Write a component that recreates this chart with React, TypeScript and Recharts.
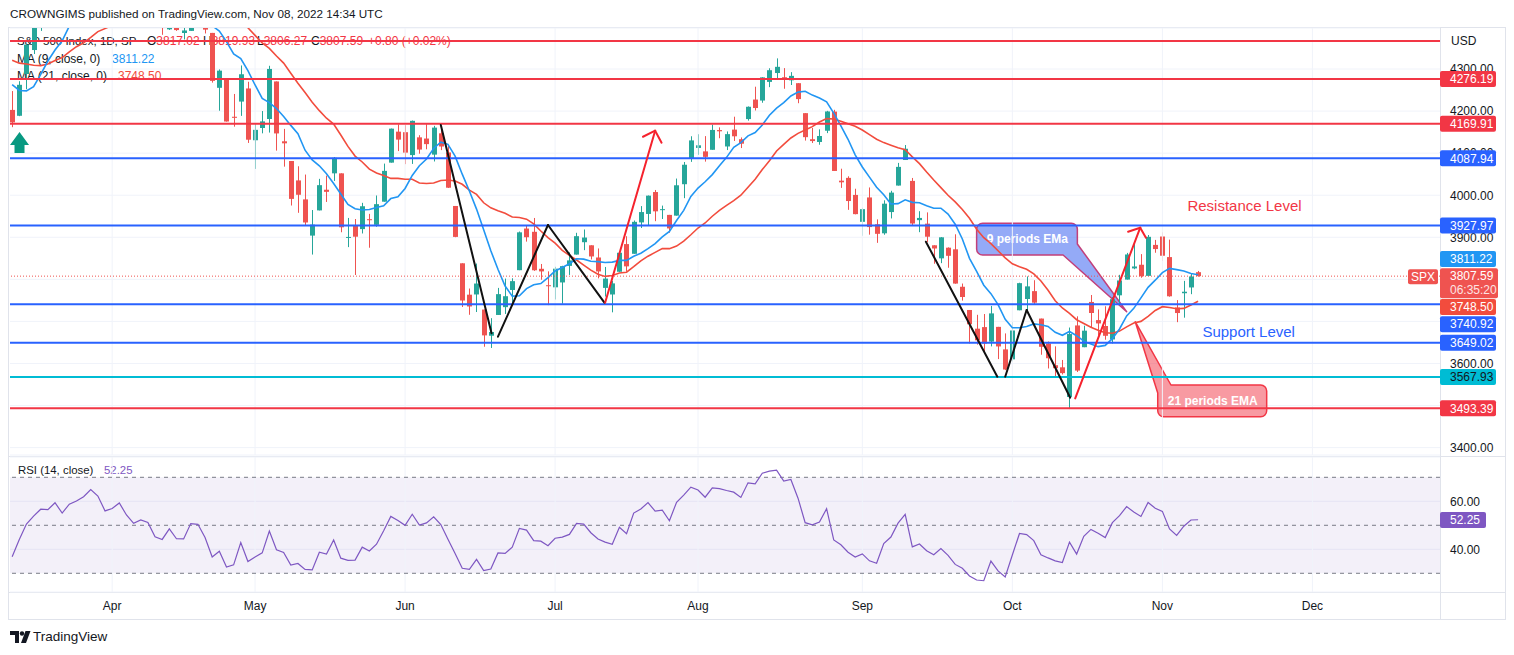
import React from 'react';
import {
  ComposedChart, Bar, Line, XAxis, YAxis, CartesianGrid,
  ReferenceLine, ReferenceArea, ReferenceDot,
} from 'recharts';

// ---------------- DATA (S&P 500, daily, 14 Mar 2022 → 8 Nov 2022) ----------------
const opens = [
  4202.75, 4188.82, 4288.14, 4345.11, 4407.34, 4462.40, 4469.10, 4493.10, 4469.98, 4522.66,
  4541.09, 4602.86, 4624.20, 4599.02, 4540.32, 4547.97, 4572.45, 4494.17, 4474.65, 4494.15,
  4462.64, 4437.59, 4394.30, 4449.12, 4385.63, 4390.63, 4472.26, 4489.17, 4385.83, 4255.34,
  4278.14, 4186.52, 4222.58, 4253.75, 4130.61, 4159.78, 4181.18, 4270.43, 4128.17, 4081.27,
  4035.18, 3990.08, 3903.95, 3963.90, 4013.02, 4052.00, 4051.98, 3899.00, 3927.76, 3919.42,
  3942.94, 3929.59, 3984.60, 4077.43, 4151.09, 4149.78, 4095.41, 4137.57, 4134.72, 4096.47,
  4147.12, 4101.65, 3974.39, 3838.15, 3763.52, 3764.05, 3728.18, 3665.90, 3715.31, 3733.89,
  3774.71, 3821.75, 3920.76, 3913.00, 3825.09, 3785.99, 3781.00, 3792.61, 3831.98, 3858.85,
  3888.26, 3880.94, 3851.95, 3779.67, 3763.99, 3818.00, 3883.79, 3860.73, 3935.32, 3955.47,
  4007.51, 3965.72, 3953.22, 3951.43, 4026.13, 4087.33, 4112.38, 4104.21, 4107.96, 4154.85,
  4115.87, 4155.93, 4133.11, 4181.02, 4227.40, 4225.02, 4269.37, 4290.46, 4280.40, 4273.13,
  4266.31, 4195.08, 4133.09, 4126.55, 4153.26, 4198.74, 4034.58, 4041.25, 4000.67, 3936.73,
  3994.66, 3930.89, 3909.43, 3959.94, 4022.94, 4083.67, 4034.00, 3940.73, 3932.41, 3880.95,
  3849.91, 3875.23, 3871.40, 3782.36, 3727.14, 3682.72, 3686.44, 3651.94, 3687.01, 3633.48,
  3609.78, 3726.46, 3753.25, 3771.97, 3706.74, 3647.51, 3595.86, 3590.83, 3520.37, 3690.41,
  3638.65, 3746.26, 3703.11, 3689.05, 3657.10, 3762.01, 3799.44, 3825.97, 3834.69, 3808.26,
  3881.85, 3901.79, 3852.90, 3733.25, 3766.98, 3780.71, 3817.02,
];
const highs = [
  4247.57, 4271.05, 4358.90, 4412.67, 4465.40, 4481.75, 4522.00, 4501.07, 4520.58, 4546.03,
  4575.65, 4637.30, 4627.77, 4603.07, 4548.70, 4583.50, 4593.45, 4503.94, 4521.16, 4520.41,
  4464.35, 4471.00, 4453.92, 4460.46, 4410.31, 4471.03, 4488.29, 4512.94, 4385.83, 4299.02,
  4278.14, 4240.71, 4308.45, 4269.68, 4169.81, 4200.10, 4307.66, 4270.43, 4157.69, 4081.27,
  4068.82, 4049.09, 3964.80, 4038.88, 4046.46, 4090.72, 4051.98, 3945.96, 3943.42, 3981.88,
  3955.68, 3999.33, 4075.14, 4158.49, 4168.34, 4166.54, 4177.51, 4142.67, 4168.78, 4164.86,
  4160.14, 4119.10, 3974.39, 3838.15, 3778.18, 3837.56, 3728.18, 3707.71, 3779.65, 3801.79,
  3802.58, 3913.65, 3927.72, 3945.86, 3836.50, 3818.99, 3829.82, 3832.19, 3864.13, 3910.63,
  3918.50, 3880.94, 3873.41, 3829.44, 3796.41, 3863.62, 3902.44, 3939.81, 3974.13, 3999.29,
  4012.44, 3975.30, 3953.22, 4039.56, 4078.95, 4140.15, 4144.95, 4140.47, 4167.66, 4161.29,
  4151.58, 4186.62, 4137.30, 4211.03, 4257.91, 4280.47, 4301.79, 4325.28, 4302.18, 4292.53,
  4266.31, 4195.08, 4159.77, 4156.56, 4200.54, 4203.04, 4062.99, 4044.98, 4015.37, 3970.23,
  4018.43, 3942.55, 3987.89, 4010.50, 4076.81, 4119.28, 4041.00, 3961.94, 3959.14, 3880.95,
  3900.45, 3876.01, 3907.07, 3790.00, 3727.14, 3715.67, 3717.53, 3736.74, 3687.01, 3671.44,
  3698.35, 3791.92, 3806.91, 3797.93, 3706.74, 3652.17, 3640.66, 3608.34, 3685.41, 3712.00,
  3689.73, 3762.79, 3728.58, 3736.00, 3757.89, 3810.74, 3862.85, 3886.15, 3859.95, 3905.42,
  3893.73, 3911.79, 3894.44, 3750.59, 3796.34, 3813.95, 3819.93,
];
const lows = [
  4161.72, 4187.90, 4251.99, 4335.65, 4390.57, 4424.30, 4469.10, 4455.81, 4465.17, 4501.07,
  4517.69, 4589.66, 4581.32, 4530.41, 4507.57, 4539.21, 4514.17, 4450.04, 4450.30, 4474.60,
  4408.38, 4381.34, 4392.70, 4390.77, 4370.30, 4390.63, 4448.76, 4384.47, 4267.62, 4200.82,
  4175.04, 4162.90, 4188.63, 4124.28, 4062.51, 4147.08, 4148.91, 4106.01, 4067.91, 3975.48,
  3958.17, 3928.82, 3858.87, 3963.90, 3983.99, 4033.93, 3911.91, 3876.58, 3810.32, 3909.04,
  3875.13, 3925.03, 3984.60, 4077.43, 4104.88, 4073.85, 4074.37, 4098.67, 4109.18, 4080.19,
  4107.20, 4017.17, 3900.16, 3734.30, 3715.71, 3722.30, 3639.77, 3636.87, 3715.31, 3717.69,
  3743.52, 3821.75, 3889.66, 3820.14, 3799.02, 3738.67, 3752.10, 3742.06, 3810.47, 3858.85,
  3869.34, 3847.22, 3802.36, 3759.07, 3721.56, 3817.18, 3818.63, 3860.73, 3922.03, 3927.64,
  3938.24, 3943.46, 3910.74, 3951.43, 3992.97, 4079.22, 4096.02, 4079.81, 4107.96, 4135.42,
  4107.31, 4128.97, 4112.09, 4177.26, 4201.41, 4219.78, 4256.90, 4277.77, 4253.08, 4261.98,
  4218.70, 4129.86, 4124.03, 4119.97, 4147.59, 4057.66, 4017.42, 3965.21, 3954.53, 3903.65,
  3906.21, 3886.75, 3906.03, 3944.81, 4022.94, 4083.67, 3928.00, 3912.11, 3888.28, 3837.08,
  3838.50, 3827.54, 3789.49, 3749.45, 3647.47, 3644.76, 3623.29, 3640.61, 3610.40, 3584.13,
  3604.93, 3726.46, 3722.66, 3739.22, 3620.73, 3588.10, 3568.45, 3573.86, 3491.58, 3579.68,
  3638.65, 3686.53, 3666.51, 3656.44, 3647.42, 3741.65, 3799.44, 3824.07, 3803.79, 3808.26,
  3863.18, 3843.80, 3758.68, 3698.15, 3708.84, 3764.70, 3806.27,
];
const closes = [
  4173.11, 4262.45, 4357.86, 4411.67, 4463.12, 4461.18, 4511.61, 4456.24, 4520.16, 4543.06,
  4575.52, 4631.60, 4602.45, 4530.41, 4545.86, 4582.64, 4525.12, 4481.15, 4500.21, 4488.28,
  4412.53, 4397.45, 4446.59, 4392.59, 4391.69, 4462.21, 4459.45, 4393.66, 4271.78, 4296.12,
  4175.20, 4183.96, 4287.50, 4131.93, 4155.38, 4175.48, 4300.17, 4146.87, 4123.34, 3991.24,
  4001.05, 3935.18, 3930.08, 4023.89, 4008.01, 4088.85, 3923.68, 3900.79, 3901.36, 3973.75,
  3941.48, 3978.73, 4057.84, 4158.24, 4132.15, 4101.23, 4176.82, 4108.54, 4121.43, 4160.68,
  4115.77, 4017.82, 3900.86, 3749.63, 3735.48, 3789.99, 3666.77, 3674.84, 3764.79, 3759.89,
  3795.73, 3911.74, 3900.11, 3821.55, 3818.83, 3785.38, 3825.33, 3831.39, 3845.08, 3902.62,
  3899.38, 3854.43, 3818.80, 3801.78, 3790.38, 3863.16, 3830.85, 3936.69, 3959.90, 3998.95,
  3961.63, 3966.84, 3921.05, 4023.61, 4072.43, 4130.29, 4118.63, 4091.19, 4155.17, 4151.94,
  4145.19, 4140.06, 4122.47, 4210.24, 4207.27, 4280.15, 4297.14, 4305.20, 4274.04, 4283.74,
  4228.48, 4137.99, 4128.73, 4140.77, 4199.12, 4057.66, 4030.61, 3986.16, 3955.00, 3966.85,
  3924.26, 3908.19, 3979.87, 4006.18, 4067.36, 4110.41, 3932.69, 3946.01, 3901.35, 3873.33,
  3899.89, 3855.93, 3789.93, 3757.99, 3693.23, 3655.04, 3647.29, 3719.04, 3640.47, 3585.62,
  3678.43, 3790.93, 3783.28, 3744.52, 3639.66, 3612.39, 3588.84, 3577.03, 3669.91, 3583.07,
  3677.95, 3719.98, 3695.16, 3665.78, 3752.75, 3797.34, 3859.11, 3830.60, 3807.30, 3901.06,
  3871.98, 3856.10, 3759.69, 3719.89, 3770.55, 3806.80, 3807.59,
];
const ma9 = [
  4263, 4249, 4248, 4258, 4287, 4319, 4345, 4367, 4402, 4443, 4478, 4508, 4529, 4537, 4546, 4554, 4562, 4558, 4553, 4543,
  4519, 4496, 4487, 4470, 4448, 4441, 4439, 4427, 4403, 4390, 4365, 4336, 4325, 4296, 4262, 4230, 4220, 4206, 4187, 4166,
  4146, 4107, 4084, 4070, 4051, 4028, 4003, 3978, 3968, 3965, 3966, 3971, 3975, 3992, 3996, 4016, 4047, 4070, 4086, 4111,
  4126, 4121, 4093, 4050, 4010, 3967, 3918, 3868, 3824, 3784, 3760, 3761, 3778, 3787, 3790, 3804, 3820, 3828, 3837, 3849,
  3848, 3843, 3842, 3840, 3841, 3845, 3845, 3855, 3862, 3873, 3885, 3901, 3914, 3940, 3964, 3997, 4017, 4032, 4049, 4070,
  4090, 4114, 4125, 4141, 4149, 4167, 4190, 4207, 4220, 4236, 4245, 4247, 4238, 4231, 4222, 4195, 4165, 4133, 4096, 4067,
  4043, 4019, 4001, 3979, 3980, 3989, 3983, 3982, 3975, 3969, 3969, 3955, 3931, 3896, 3850, 3819, 3786, 3766, 3740, 3705,
  3685, 3685, 3688, 3694, 3692, 3688, 3674, 3667, 3676, 3666, 3653, 3646, 3640, 3643, 3659, 3682, 3713, 3731, 3756, 3781,
  3798, 3816, 3826, 3823, 3820, 3814, 3811,
];
const ma21 = [
  4321, 4314, 4312, 4309, 4308, 4312, 4320, 4327, 4341, 4353, 4362, 4375, 4389, 4396, 4404, 4416, 4432, 4447, 4457, 4468,
  4478, 4489, 4497, 4499, 4498, 4498, 4498, 4492, 4484, 4473, 4455, 4437, 4420, 4398, 4380, 4362, 4349, 4331, 4314, 4290,
  4266, 4244, 4221, 4201, 4183, 4169, 4143, 4116, 4093, 4079, 4062, 4053, 4047, 4040, 4040, 4038, 4038, 4029, 4028, 4029,
  4035, 4036, 4034, 4026, 4012, 4002, 3982, 3970, 3963, 3957, 3948, 3947, 3943, 3932, 3915, 3899, 3886, 3869, 3857, 3846,
  3834, 3822, 3812, 3807, 3809, 3815, 3817, 3830, 3844, 3855, 3864, 3873, 3873, 3879, 3891, 3906, 3922, 3934, 3950, 3964,
  3976, 3987, 4000, 4019, 4038, 4061, 4082, 4105, 4121, 4136, 4147, 4155, 4163, 4174, 4182, 4181, 4176, 4170, 4164, 4155,
  4144, 4133, 4125, 4119, 4113, 4108, 4091, 4075, 4055, 4036, 4018, 4000, 3984, 3966, 3945, 3919, 3899, 3885, 3868, 3851,
  3837, 3830, 3824, 3813, 3796, 3774, 3749, 3732, 3719, 3704, 3695, 3686, 3679, 3673, 3672, 3677, 3687, 3696, 3700, 3712,
  3726, 3735, 3733, 3730, 3731, 3739, 3748,
];
const rsi14 = [
  36.9, 44.1, 50.5, 53.8, 56.7, 56.5, 59.4, 55.1, 58.8, 60.1, 61.9, 64.9, 62.2, 56.0, 57.0, 59.3, 54.3, 50.8, 52.2, 51.2,
  45.2, 44.1, 48.5, 44.4, 44.3, 50.7, 50.4, 44.9, 36.8, 39.2, 32.6, 33.5, 42.8, 34.9, 36.8, 38.5, 47.6, 39.8, 38.7, 33.4,
  34.1, 31.6, 31.4, 38.8, 38.0, 43.9, 36.3, 35.4, 35.5, 40.9, 39.3, 42.1, 47.7, 53.7, 52.0, 50.0, 54.6, 50.1, 51.0, 53.5,
  50.3, 44.2, 38.2, 32.1, 31.6, 35.8, 31.1, 31.8, 38.5, 38.3, 40.9, 48.7, 48.0, 43.6, 43.4, 41.5, 44.6, 45.1, 46.2, 50.8,
  50.5, 46.9, 44.3, 43.0, 42.1, 49.2, 46.5, 55.1, 56.8, 59.5, 55.9, 56.3, 51.9, 59.6, 62.6, 65.9, 64.7, 61.7, 65.6, 65.3,
  64.5, 63.8, 61.6, 67.7, 67.3, 71.7, 72.6, 73.0, 68.4, 69.1, 61.3, 51.1, 50.2, 51.4, 56.9, 43.9, 41.9, 38.8, 36.8, 38.1,
  35.2, 34.2, 42.4, 45.1, 50.9, 54.6, 41.0, 42.2, 39.4, 37.7, 40.3, 37.5, 33.7, 32.1, 28.9, 27.2, 26.9, 35.1, 31.0, 28.5,
  37.6, 46.6, 46.1, 43.6, 37.7, 36.4, 35.2, 34.5, 43.0, 38.0, 45.4, 48.3, 46.7, 44.9, 51.1, 54.0, 57.8, 55.5, 53.7, 59.5,
  57.1, 55.8, 48.5, 45.8, 49.6, 52.2, 52.3,
];

// time axis: bar index of the first session of each month
const monthIdx = [14, 34, 55, 76, 96, 119, 140, 161, 182];
const monthLabels = ['Apr', 'May', 'Jun', 'Jul', 'Aug', 'Sep', 'Oct', 'Nov', 'Dec'];

const priceTicks = [3400, 3500, 3600, 3700, 3800, 3900, 4000, 4100, 4200, 4300];
// price-scale labels that sit under the level tags in the reference
const coveredTicks = [3500, 3700, 3800];
const rsiTicks = [40, 60];
const rsiLevels = [70, 50, 30];

// horizontal levels drawn on the chart
const levelPrices = [4366.6, 4276.19, 4169.91, 4087.94, 3927.97, 3740.92, 3649.02, 3567.93, 3493.39];

// legend values
const lastMa9 = 3811.22;
const lastMa21 = 3748.5;
const lastRsi = 52.25;

// drawings in (bar index, price) coordinates
const zigzagSegments = [
  [[60.0, 4166.9], [67.1, 3671.7]],
  [[68.0, 3663.6], [75.0, 3929.2]],
  [[75.0, 3929.2], [82.9, 3744.5]],
  [[127.9, 3889.5], [137.9, 3568.5]],
  [[139.0, 3568.5], [142.0, 3727.0]],
  [[142.0, 3727.0], [148.1, 3518.6]],
];
const arrowSegments = [
  [[83.0, 3744.5], [90.0, 4153.3]],
  [[90.0, 4153.3], [88.3, 4139.0]],
  [[90.0, 4153.3], [90.9, 4124.8]],
  [[148.8, 3517.0], [157.9, 3922.7]],
  [[157.9, 3922.7], [156.2, 3913.2]],
  [[157.9, 3922.7], [158.7, 3899.0]],
];
// callout: box [x1, x2, yBottom, yTop], tip [x, y], base points where the pointer meets the box
const callout9 = { text: '9 periods EMa', box: [135.0, 149.1, 3857.9, 3933.2], tip: [156.0, 3723.1], baseA: [149.1, 3884.0], baseB: [147.1, 3857.9] };
const callout21 = { text: '21 periods EMA', box: [160.35, 175.6, 3473.5, 3548.8], tip: [157.2, 3699.3], baseA: [160.35, 3529.8], baseB: [162.2, 3548.8] };
const resistanceText = { x: 164.5, y: 3975.0, text: 'Resistance Level' };
const supportText = { x: 166.6, y: 3674.8, text: 'Support Level' };
const buyArrow = { x: 1.03, y: 4125.3 };

// ---------------- STYLE ----------------
const FONT = "'Liberation Sans', Arial, Helvetica, sans-serif";
const TEXT = '#131722';
const GRID = '#f0f3fa';
const BORDER = '#e0e3eb';
const UP = '#26a69a';
const DOWN = '#ef5350';
const RED = '#f23645';
const BLUE = '#2962ff';
const CYAN = '#00bcd4';
const MA9_C = '#2196f3';
const MA21_C = '#f24c3d';
const RSI_C = '#7e57c2';
const DRAW_RED = '#f5222d';
const levelColors = [RED, RED, RED, BLUE, BLUE, BLUE, BLUE, CYAN, RED];
const levelTagText = ['', '#ffffff', '#ffffff', '#ffffff', '#ffffff', '#ffffff', '#ffffff', TEXT, '#ffffff'];
const levelTagShift = [0, 0, 0, 0, 0, 20, 0, 0, 0];

const X_DOMAIN: [number, number] = [-0.302, 199.86];
const PRICE_DOMAIN: [number, number] = [3382.4, 4397.5];
const RSI_DOMAIN: [number, number] = [22.2, 78.46];
const MAIN_MARGIN = { top: 28, right: 8, bottom: 1, left: 10 };

const rows = closes.map((c, i) => ({
  i,
  open: opens[i],
  high: highs[i],
  low: lows[i],
  close: c,
  range: [lows[i], highs[i]],
  ma9: ma9[i],
  ma21: ma21[i],
  rsi: rsi14[i],
}));

// ---------------- SHAPES ----------------
const Candle = (props: any) => {
  const { x, y, width, height, payload } = props;
  if (!payload || x == null || y == null) return null;
  const top = Math.min(y, y + height);
  const h = Math.abs(height);
  const { open, close, high, low } = payload;
  const span = high - low;
  const py = (p: number) => (span === 0 ? top : top + ((high - p) / span) * h);
  const color = close >= open ? UP : DOWN;
  const cx = Math.round(x + width / 2) + 0.5;
  const b1 = py(Math.max(open, close));
  const b2 = py(Math.min(open, close));
  return (
    <g>
      <line x1={cx} x2={cx} y1={top} y2={top + h} stroke={color} strokeWidth={1} />
      <rect x={cx - 2.5} y={b1} width={5} height={Math.max(b2 - b1, 1)} fill={color} />
    </g>
  );
};

function axisTag(text: string, bg: string, fg: string, dy = 0, w = 56) {
  return (props: any) => {
    const vb = props.viewBox || {};
    const x = (vb.x ?? 0) + (vb.width ?? 0);
    const y = (vb.y ?? 0) + dy;
    return (
      <g>
        <rect x={x} y={y - 8} width={w} height={16} rx={2} fill={bg} />
        <text x={x + 10} y={y} dy={4.3} fontSize={12} fill={fg} fontFamily={FONT}>{text}</text>
      </g>
    );
  };
}

const lastPriceTag = (props: any) => {
  const vb = props.viewBox || {};
  const x = (vb.x ?? 0) + (vb.width ?? 0);
  const y = vb.y ?? 0;
  return (
    <g>
      <rect x={x - 32} y={y - 7} width={30} height={15} rx={2} fill={DOWN} />
      <text x={x - 17} y={y} dy={4.5} textAnchor="middle" fontSize={12} fill="#fff" fontFamily={FONT}>SPX</text>
      <rect x={x} y={y - 8} width={58} height={30} rx={2} fill={DOWN} />
      <text x={x + 10} y={y} dy={4.3} fontSize={12} fill="#fff" fontFamily={FONT}>{closes[closes.length - 1].toFixed(2)}</text>
      <text x={x + 10} y={y + 14} dy={4.3} fontSize={12} fill="#fde3e3" fontFamily={FONT}>06:35:20</text>
    </g>
  );
};

const PriceTick = (p: any) => {
  const v = Number(p.payload.value);
  if (coveredTicks.indexOf(v) >= 0) return <g />;
  return (
    <text x={p.x} y={p.y} dy={4.3} textAnchor="start" fontSize={12} fill={TEXT} fontFamily={FONT}>
      {v.toFixed(2)}
    </text>
  );
};

const RsiTick = (p: any) => (
  <text x={p.x} y={p.y} dy={4.3} textAnchor="start" fontSize={12} fill={TEXT} fontFamily={FONT}>
    {Number(p.payload.value).toFixed(2)}
  </text>
);

const TimeTick = (p: any) => {
  const k = monthIdx.indexOf(p.payload.value);
  return (
    <text x={p.x} y={p.y} dy={18} textAnchor="middle" fontSize={12} fill={TEXT} fontFamily={FONT}>
      {k >= 0 ? monthLabels[k] : ''}
    </text>
  );
};

function calloutShape(c: typeof callout9, fill: string, stroke: string, bounds: number[], tailAtTopLeft: boolean) {
  // bounds = [x1, x2, yLow, yHigh] of the ReferenceArea holding the callout
  return (props: any) => {
    const { x, y, width, height } = props;
    const [bx1, bx2, by1, by2] = bounds;
    const px = (v: number) => x + ((v - bx1) / (bx2 - bx1)) * width;
    const py = (v: number) => y + ((by2 - v) / (by2 - by1)) * height;
    const L = px(c.box[0]);
    const R = px(c.box[1]);
    const B = py(c.box[2]);
    const T = py(c.box[3]);
    const r = 6;
    const tx = px(c.tip[0]);
    const ty = py(c.tip[1]);
    const ax = px(c.baseA[0]);
    const ay = py(c.baseA[1]);
    const bx = px(c.baseB[0]);
    const by = py(c.baseB[1]);
    let d: string;
    if (!tailAtTopLeft) {
      d = `M ${L + r} ${T} H ${R - r} A ${r} ${r} 0 0 1 ${R} ${T + r} V ${ay} L ${tx} ${ty} L ${bx} ${by} H ${L + r} A ${r} ${r} 0 0 1 ${L} ${B - r} V ${T + r} A ${r} ${r} 0 0 1 ${L + r} ${T} Z`;
    } else {
      d = `M ${bx} ${by} H ${R - r} A ${r} ${r} 0 0 1 ${R} ${T + r} V ${B - r} A ${r} ${r} 0 0 1 ${R - r} ${B} H ${L + r} A ${r} ${r} 0 0 1 ${L} ${B - r} V ${ay} L ${tx} ${ty} Z`;
    }
    return (
      <g>
        <path d={d} fill={fill} stroke={stroke} strokeWidth={1.5} strokeLinejoin="round" />
        <text x={L + 10} y={(T + B) / 2} dy={4.3} fontSize={12} fontWeight={700} fill="#ffffff" fontFamily={FONT}>{c.text}</text>
      </g>
    );
  };
}

const textDot = (text: string, color: string) => (p: any) => (
  <text x={p.cx} y={p.cy} dy={5.2} fontSize={15} fill={color} fontFamily={FONT}>{text}</text>
);

const ArrowUp = (p: any) => {
  const { cx, cy } = p;
  return (
    <path
      d={`M ${cx} ${cy - 10.5} L ${cx + 9.5} ${cy + 2.5} H ${cx + 5} V ${cy + 10.5} H ${cx - 5} V ${cy + 2.5} H ${cx - 9.5} Z`}
      fill="#089981"
    />
  );
};

const Txt = ({ x, y, children, color = TEXT, size = 12, weight = 400 }: any) => (
  <div
    style={{
      position: 'absolute', left: x, top: y - size * 0.62, fontSize: size, color,
      fontFamily: FONT, whiteSpace: 'nowrap', lineHeight: `${size * 1.24}px`, fontWeight: weight,
    }}
  >
    {children}
  </div>
);

const b9 = [callout9.box[0], callout9.tip[0], callout9.tip[1], callout9.box[3]];
const b21 = [callout21.tip[0], callout21.box[1], callout21.box[2], callout21.tip[1]];

export default function App() {
  const n = closes.length - 1;
  return (
    <div style={{ position: 'fixed', left: 0, top: 0, width: 1514, height: 655, background: '#fff', overflow: 'hidden' }}>
      {/* frame */}
      <svg width={1514} height={655} style={{ position: 'absolute', left: 0, top: 0 }}>
        <rect x={8.5} y={27.5} width={1497} height={592} fill="none" stroke={BORDER} />
        <line x1={8} x2={1506} y1={456.5} y2={456.5} stroke={BORDER} />
        <line x1={8} x2={1506} y1={592.5} y2={592.5} stroke={BORDER} />
        <line x1={1440.5} x2={1440.5} y1={28} y2={620} stroke={BORDER} />
        {/* TradingView logo */}
        <path d="M10 631 H19 V643 H15 V635 H10 Z" fill={TEXT} />
        <circle cx={22} cy={633.5} r={2.2} fill={TEXT} />
        <path d="M25.5 631 H30.5 L26 643 H21 Z" fill={TEXT} />
      </svg>

      <Txt x={10} y={14} size={11.7}>CROWNGIMS published on TradingView.com, Nov 08, 2022 14:34 UTC</Txt>

      {/* legend */}
      <Txt x={17} y={41} size={11.5}>S&amp;P 500 Index, 1D, SP</Txt>
      <Txt x={147} y={41}>O<span style={{ color: RED }}>{opens[n].toFixed(2)}</span></Txt>
      <Txt x={203} y={41}>H<span style={{ color: RED }}>{highs[n].toFixed(2)}</span></Txt>
      <Txt x={257} y={41}>L<span style={{ color: RED }}>{lows[n].toFixed(2)}</span></Txt>
      <Txt x={311} y={41}>C<span style={{ color: RED }}>{closes[n].toFixed(2)}</span></Txt>
      <Txt x={368} y={41} color={RED}>+0.80 (+0.02%)</Txt>
      <Txt x={17} y={59}>MA (9, close, 0)</Txt>
      <Txt x={112} y={59} color={MA9_C}>{lastMa9.toFixed(2)}</Txt>
      <Txt x={17} y={76}>MA (21, close, 0)</Txt>
      <Txt x={118} y={76} color={MA21_C}>{lastMa21.toFixed(2)}</Txt>
      <Txt x={1451} y={41}>USD</Txt>

      <Txt x={18} y={470} size={11.4}>RSI (14, close)</Txt>
      <Txt x={104} y={470} size={11.4} color={RSI_C}>{lastRsi.toFixed(2)}</Txt>

      <Txt x={33} y={637} size={13.5}>TradingView</Txt>

      {/* main price pane */}
      <div style={{ position: 'absolute', left: 0, top: 0 }}>
        <ComposedChart width={1514} height={456} data={rows} margin={MAIN_MARGIN}>
          <CartesianGrid vertical={false} stroke={GRID} />
          {monthIdx.map((m) => (
            <ReferenceLine key={'mv' + m} x={m} stroke={GRID} />
          ))}
          <XAxis type="number" dataKey="i" domain={X_DOMAIN} allowDataOverflow hide ticks={monthIdx} />
          <YAxis
            orientation="right"
            width={66}
            domain={PRICE_DOMAIN}
            allowDataOverflow
            ticks={priceTicks}
            interval={0}
            tick={PriceTick}
            tickSize={0}
            tickMargin={10}
            tickLine={false}
            axisLine={false}
          />
          <Bar dataKey="range" shape={Candle} barSize={5} isAnimationActive={false} />
          <Line dataKey="ma21" stroke={MA21_C} strokeWidth={1.6} dot={false} type="linear" isAnimationActive={false} />
          <Line dataKey="ma9" stroke={MA9_C} strokeWidth={1.6} dot={false} type="linear" isAnimationActive={false} />

          {levelPrices.map((p, k) => (
            <ReferenceLine key={'lv' + k} y={p} stroke={levelColors[k]} strokeWidth={2} />
          ))}
          <ReferenceLine y={closes[n]} stroke={DOWN} strokeWidth={1} strokeDasharray="1 2" />

          {zigzagSegments.map((s, k) => (
            <ReferenceLine
              key={'zz' + k}
              segment={[{ x: s[0][0], y: s[0][1] }, { x: s[1][0], y: s[1][1] }]}
              stroke="#111111"
              strokeWidth={2}
              strokeLinecap="round"
            />
          ))}
          {arrowSegments.map((s, k) => (
            <ReferenceLine
              key={'ar' + k}
              segment={[{ x: s[0][0], y: s[0][1] }, { x: s[1][0], y: s[1][1] }]}
              stroke={DRAW_RED}
              strokeWidth={2}
              strokeLinecap="round"
            />
          ))}
          <ReferenceArea
            x1={b9[0]} x2={b9[1]} y1={b9[2]} y2={b9[3]}
            shape={calloutShape(callout9, 'rgba(60, 100, 240, 0.55)', '#c23f7a', b9, false)}
          />
          <ReferenceArea
            x1={b21[0]} x2={b21[1]} y1={b21[2]} y2={b21[3]}
            shape={calloutShape(callout21, 'rgba(242, 54, 69, 0.5)', RED, b21, true)}
          />
          <ReferenceDot x={resistanceText.x} y={resistanceText.y} r={0} shape={textDot(resistanceText.text, RED)} />
          <ReferenceDot x={supportText.x} y={supportText.y} r={0} shape={textDot(supportText.text, BLUE)} />
          <ReferenceDot x={buyArrow.x} y={buyArrow.y} r={0} shape={ArrowUp} />
        </ComposedChart>
      </div>

      {/* price-scale tags, drawn above the scale labels */}
      <div style={{ position: 'absolute', left: 0, top: 0 }}>
        <ComposedChart width={1514} height={456} data={rows} margin={MAIN_MARGIN}>
          <XAxis type="number" dataKey="i" domain={X_DOMAIN} allowDataOverflow hide />
          <YAxis orientation="right" width={66} domain={PRICE_DOMAIN} allowDataOverflow tick={false} tickLine={false} axisLine={false} />
          <Line dataKey="close" stroke="transparent" dot={false} isAnimationActive={false} />
          {levelPrices.map((p, k) =>
            levelTagText[k] ? (
              <ReferenceLine
                key={'tag' + k}
                y={p}
                stroke="none"
                label={axisTag(p.toFixed(2), levelColors[k], levelTagText[k], levelTagShift[k])}
              />
            ) : null,
          )}
          <ReferenceLine y={lastMa9} stroke="none" label={axisTag(lastMa9.toFixed(2), MA9_C, '#fff', -15.6)} />
          <ReferenceLine y={lastMa21} stroke="none" label={axisTag(lastMa21.toFixed(2), MA21_C, '#fff', 6)} />
          <ReferenceLine y={closes[n]} stroke="none" label={lastPriceTag} />
        </ComposedChart>
      </div>

      {/* RSI pane + time axis */}
      <div style={{ position: 'absolute', left: 0, top: 456 }}>
        <ComposedChart width={1514} height={164} data={rows} margin={{ top: 1, right: 8, bottom: 0, left: 10 }}>
          <CartesianGrid vertical={false} stroke={GRID} />
          {monthIdx.map((m) => (
            <ReferenceLine key={'rv' + m} x={m} stroke={GRID} />
          ))}
          <ReferenceArea y1={30} y2={70} fill={RSI_C} fillOpacity={0.09} stroke="none" />
          {rsiLevels.map((lv) => (
            <ReferenceLine key={'rl' + lv} y={lv} stroke="#787b86" strokeDasharray="4 4" />
          ))}
          <XAxis
            type="number"
            dataKey="i"
            domain={X_DOMAIN}
            allowDataOverflow
            ticks={monthIdx}
            interval={0}
            tick={TimeTick}
            tickSize={0}
            tickMargin={0}
            tickLine={false}
            axisLine={false}
            height={28}
          />
          <YAxis
            orientation="right"
            width={66}
            domain={RSI_DOMAIN}
            allowDataOverflow
            ticks={rsiTicks}
            interval={0}
            tick={RsiTick}
            tickSize={0}
            tickMargin={10}
            tickLine={false}
            axisLine={false}
          />
          <Line dataKey="rsi" stroke={RSI_C} strokeWidth={1.2} dot={false} type="linear" isAnimationActive={false} />
          <ReferenceLine y={lastRsi} stroke="none" label={axisTag(lastRsi.toFixed(2), RSI_C, '#fff', 0, 46)} />
        </ComposedChart>
      </div>
    </div>
  );
}
